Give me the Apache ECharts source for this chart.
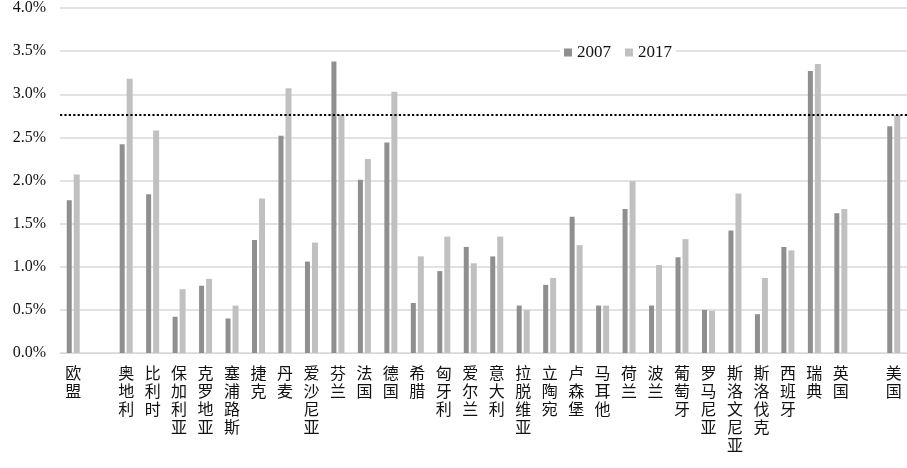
<!DOCTYPE html>
<html>
<head>
<meta charset="utf-8">
<script src="https://cdn.jsdelivr.net/npm/echarts@6/dist/echarts.min.js"></script>
<style>html,body{margin:0;padding:0;background:#fff;}#c{width:907px;height:468px;}</style>
</head>
<body>
<div id="c"></div>
<script>
const categories = ['欧盟',' ','奥地利','比利时','保加利亚','克罗地亚','塞浦路斯','捷克','丹麦','爱沙尼亚','芬兰','法国','德国','希腊','匈牙利','爱尔兰','意大利','拉脱维亚','立陶宛','卢森堡','马耳他','荷兰','波兰','葡萄牙','罗马尼亚','斯洛文尼亚','斯洛伐克','西班牙','瑞典','英国','  ','美国'];
const values2007 = [1.77,'-',2.42,1.84,0.42,0.78,0.40,1.31,2.52,1.06,3.38,2.01,2.44,0.58,0.95,1.23,1.12,0.55,0.79,1.58,0.55,1.67,0.55,1.11,0.50,1.42,0.45,1.23,3.27,1.62,'-',2.63];
const values2017 = [2.07,'-',3.18,2.58,0.74,0.86,0.55,1.79,3.07,1.28,2.76,2.25,3.03,1.12,1.35,1.04,1.35,0.50,0.87,1.25,0.55,1.99,1.02,1.32,0.49,1.85,0.87,1.19,3.35,1.67,'-',2.76];
const targetLine = 2.76;
const yTicks = {min: 0, max: 4, interval: 0.5};

const chart = echarts.init(document.getElementById('c'));
chart.setOption({
  animation: false,
  backgroundColor: '#ffffff',
  legend: {
    left: 560, top: 42,
    itemWidth: 8, itemHeight: 8, itemGap: 14,
    backgroundColor: '#ffffff',
    padding: [2, 4, 2, 4],
    textStyle: {fontFamily: 'Liberation Serif', fontSize: 17, color: '#111'},
    data: [{name: '2007', icon: 'rect'}, {name: '2017', icon: 'rect'}]
  },
  grid: {left: 60, top: 7, width: 851, height: 346, containLabel: false},
  xAxis: {
    type: 'category',
    data: categories,
    axisTick: {show: false},
    axisLine: {lineStyle: {color: '#d9d9d9', width: 1}},
    axisLabel: {
      interval: 0,
      margin: 11,
      fontFamily: 'Noto Sans CJK SC',
      fontSize: 16,
      lineHeight: 18,
      color: '#111',
      verticalAlign: 'top',
      formatter: v => v.trim().split('').join('\n')
    }
  },
  yAxis: {
    type: 'value',
    min: yTicks.min, max: yTicks.max, interval: yTicks.interval,
    axisLine: {show: false},
    axisTick: {show: false},
    splitLine: {lineStyle: {color: '#d9d9d9', width: 1.5}},
    axisLabel: {
      margin: 14,
      fontFamily: 'Liberation Serif',
      fontSize: 16,
      color: '#111',
      formatter: v => v.toFixed(1) + '%'
    }
  },
  series: [
    {
      name: '2007', type: 'bar', data: values2007,
      barWidth: 5, barGap: '40%',
      itemStyle: {color: '#8f8f8f'},
      markLine: {
        silent: true, symbol: 'none', label: {show: false},
        lineStyle: {type: 'dotted', color: '#000', width: 2.2},
        data: [{yAxis: targetLine}]
      }
    },
    {
      name: '2017', type: 'bar', data: values2017,
      barWidth: 6,
      itemStyle: {color: '#c0c0c0'}
    }
  ]
});
</script>
</body>
</html>
